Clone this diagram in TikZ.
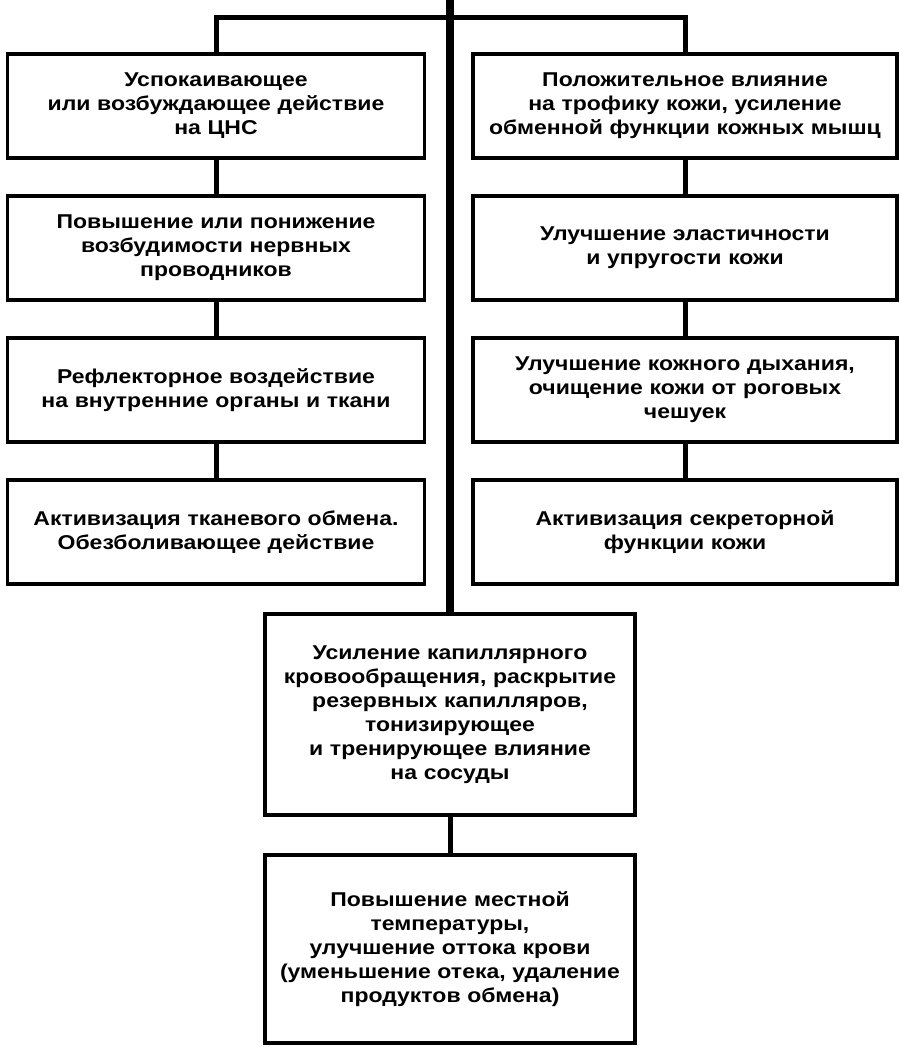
\documentclass[tikz,border=0pt]{standalone}
\usepackage{fontspec}
\setmainfont{Liberation Sans}[FakeStretch=1.15]
\usetikzlibrary{positioning}
\tikzset{
  effbox/.style={draw=black, line width=3.5pt, fill=white, align=center,
    inner xsep=0pt, inner ysep=0pt, outer sep=0pt, minimum height=104pt,
    font=\fontsize{20}{24}\selectfont\bfseries},
  leftbox/.style={effbox, text width=417pt},
  rightbox/.style={effbox, text width=424pt},
  midbox/.style={effbox, text width=370pt},
  link/.style={line width=5pt},
  spineline/.style={line width=8pt}
}
\begin{document}
\begin{tikzpicture}[x=1pt, y=-1pt, node distance=38pt]
  \useasboundingbox (0,0) rectangle (902,1047);
  % left column
  \node[leftbox, anchor=north] (l1) at (216,54)
    {Успокаивающее\\или возбуждающее действие\\на ЦНС};
  \node[leftbox, below=of l1] (l2)
    {Повышение или понижение\\возбудимости нервных\\проводников};
  \node[leftbox, below=of l2] (l3)
    {Рефлекторное воздействие\\на внутренние органы и ткани};
  \node[leftbox, below=of l3] (l4)
    {Активизация тканевого обмена.\\Обезболивающее действие};
  % right column
  \node[rightbox, anchor=north] (r1) at (685,54)
    {Положительное влияние\\на трофику кожи, усиление\\обменной функции кожных мышц};
  \node[rightbox, below=of r1] (r2)
    {Улучшение эластичности\\и упругости кожи};
  \node[rightbox, below=of r2] (r3)
    {Улучшение кожного дыхания,\\очищение кожи от роговых\\чешуек};
  \node[rightbox, below=of r3] (r4)
    {Активизация секреторной\\функции кожи};
  % bottom chain
  \node[midbox, anchor=north, minimum height=201pt] (b1) at (450,614)
    {Усиление капиллярного\\кровообращения, раскрытие\\резервных капилляров,\\тонизирующее\\и тренирующее влияние\\на сосуды};
  \node[midbox, below=40pt of b1, minimum height=188pt] (b2)
    {Повышение местной\\температуры,\\улучшение оттока крови\\(уменьшение отека, удаление\\продуктов обмена)};
  % connectors
  \coordinate (spine) at (450,0);
  \coordinate (topL) at (l1.north |- 0,17);
  \coordinate (topR) at (r1.north |- 0,17);
  \draw[spineline] (spine) -- (b1.north);
  \draw[link] (l1.north) -- (topL) -- (topR) -- (r1.north);
  \draw[link] (l1) -- (l2) (l2) -- (l3) (l3) -- (l4);
  \draw[link] (r1) -- (r2) (r2) -- (r3) (r3) -- (r4);
  \draw[link] (b1) -- (b2);
\end{tikzpicture}
\end{document}
